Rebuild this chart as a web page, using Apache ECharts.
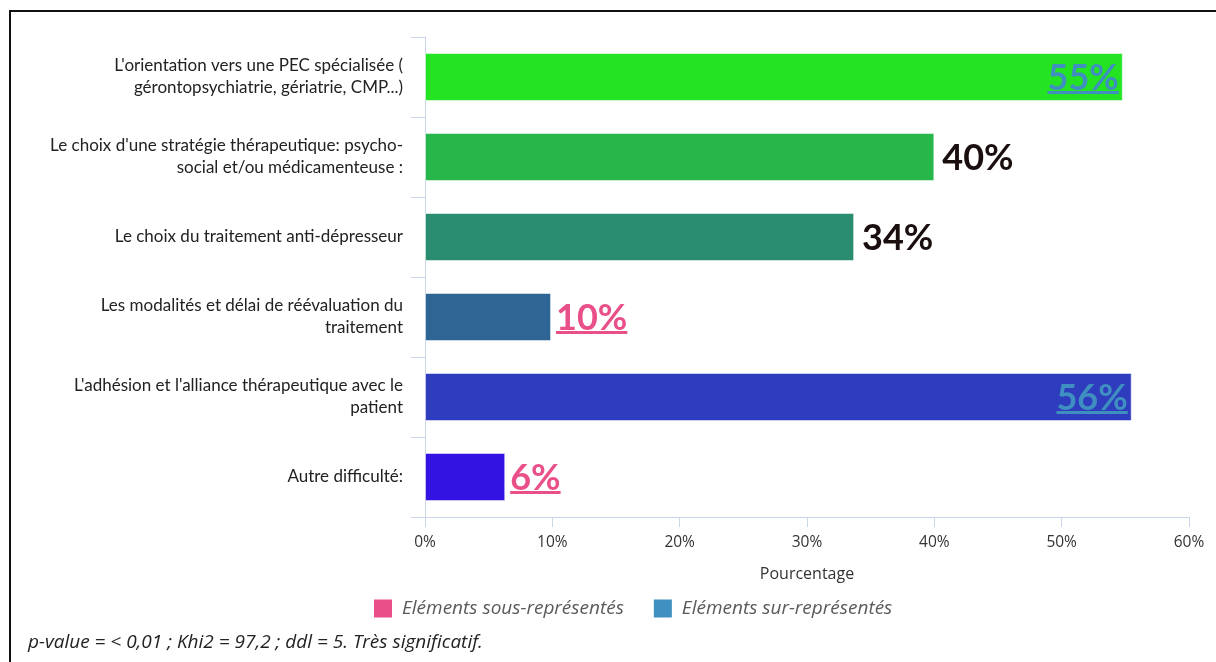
<!DOCTYPE html>
<html>
<head>
<meta charset="utf-8">
<script src="https://cdn.jsdelivr.net/npm/echarts@6/dist/echarts.min.js"></script>
<style>
  html, body { margin: 0; padding: 0; background: #fff; }
  #chart { position: absolute; left: 0; top: 0; width: 1216px; height: 662px; }
  #frame { position: absolute; left: 9px; top: 10px; width: 1220px; height: 660px;
           border-left: 2px solid #111; border-top: 2px solid #111; pointer-events: none; }
</style>
</head>
<body>
<div id="chart"></div>
<div id="frame"></div>
<script>
// categories (as displayed, with their line breaks)
const categories = [
  "L'orientation vers une PEC spécialisée (\ngérontopsychiatrie, gériatrie, CMP...)",
  "Le choix d'une stratégie thérapeutique: psycho-\nsocial et/ou médicamenteuse :",
  "Le choix du traitement anti-dépresseur",
  "Les modalités et délai de réévaluation du\ntraitement",
  "L'adhésion et l'alliance thérapeutique avec le\npatient",
  "Autre difficulté:"
];
// percentages
const values = [54.8, 40.0, 33.7, 9.9, 55.5, 6.3];
// test result per category: "sur", "sous" or "" (not significant)
const status = ["sur", "", "", "sous", "sur", "sous"];
const xTicks = [0, 10, 20, 30, 40, 50, 60];
const legendNames = ["Eléments sous-représentés", "Eléments sur-représentés"];
const footer = "p-value = < 0,01 ; Khi2 = 97,2 ; ddl = 5. Très significatif.";

const barColors = ["#24e322", "#27b64a", "#2a8d70", "#2e6595", "#2e3cbe", "#3213e2"];
const PINK = "#e94f89";
const BLUE = "#3f8fc1";

const chart = echarts.init(document.getElementById("chart"));

// measure label widths for the underline
const ctx = document.createElement("canvas").getContext("2d");
const LABEL_FONT = "bold 36px Lato";
function textWidth(t) {
  ctx.font = LABEL_FONT;
  return ctx.measureText(t).width;
}

function renderLabel(params, api) {
  const i = params.dataIndex;
  const v = api.value(0);
  const end = api.coord([v, api.value(1)]);
  const txt = Math.round(v) + "%";
  const w = textWidth(txt);
  const st = status[i];
  let x0, color;
  if (st === "sur") {
    x0 = end[0] - 4 - w;
    color = BLUE;
  } else if (st === "sous") {
    x0 = end[0] + 5;
    color = PINK;
  } else {
    x0 = end[0] + 8;
    color = "#1a0e0e";
  }
  const children = [{
    type: "text",
    style: {
      text: txt, x: x0, y: end[1] + 1,
      font: LABEL_FONT, fill: color,
      textAlign: "left", textVerticalAlign: "middle"
    }
  }];
  if (st) {
    children.push({
      type: "rect",
      shape: { x: x0, y: end[1] + 14, width: w, height: 3 },
      style: { fill: color }
    });
  }
  return { type: "group", children: children };
}

const option = {
  animation: false,
  grid: { left: 425, right: 27, top: 37, bottom: 145, containLabel: false },
  legend: {
    data: legendNames,
    left: 369,
    top: 594,
    icon: "rect",
    itemWidth: 18,
    itemHeight: 18,
    itemGap: 30,
    textStyle: {
      fontFamily: "Open Sans",
      fontStyle: "italic",
      fontSize: 19,
      color: "#5a5a5a",
      padding: [0, 0, 0, 5]
    }
  },
  title: {
    text: footer,
    left: 23,
    top: 628,
    textStyle: {
      fontFamily: "Open Sans",
      fontStyle: "italic",
      fontWeight: "normal",
      fontSize: 19,
      color: "#222"
    }
  },
  xAxis: {
    type: "value",
    min: xTicks[0],
    max: xTicks[xTicks.length - 1],
    interval: 10,
    name: "Pourcentage",
    nameLocation: "middle",
    nameGap: 49,
    nameTextStyle: { fontFamily: "Open Sans", fontSize: 16, color: "#333" },
    axisLine: { show: true, lineStyle: { color: "#ccd6eb", width: 1 } },
    axisTick: { show: true, length: 10, lineStyle: { color: "#ccd6eb" } },
    axisLabel: {
      formatter: "{value}%",
      margin: 18,
      fontFamily: "Open Sans",
      fontSize: 15.5,
      color: "#333"
    },
    splitLine: { show: false }
  },
  yAxis: {
    type: "category",
    inverse: true,
    data: categories,
    axisLine: { show: true, lineStyle: { color: "#ccd6eb", width: 1 } },
    axisTick: { show: true, length: 14, lineStyle: { color: "#ccd6eb" } },
    axisLabel: {
      margin: 22,
      fontFamily: "Lato",
      fontSize: 17,
      lineHeight: 22,
      color: "#222",
      align: "right"
    }
  },
  series: [
    {
      type: "bar",
      data: values.map((v, i) => ({ value: v, itemStyle: { color: barColors[i] } })),
      barCategoryGap: "40%",
      itemStyle: { borderColor: "rgba(255,255,255,0.5)", borderWidth: 1 }
    },
    {
      type: "custom",
      renderItem: renderLabel,
      data: values.map((v, i) => [v, i]),
      encode: { x: 0, y: 1 },
      z: 10
    },
    // legend-only entries
    { name: legendNames[0], type: "line", data: [], color: PINK },
    { name: legendNames[1], type: "line", data: [], color: BLUE }
  ]
};

chart.setOption(option);
</script>
</body>
</html>
